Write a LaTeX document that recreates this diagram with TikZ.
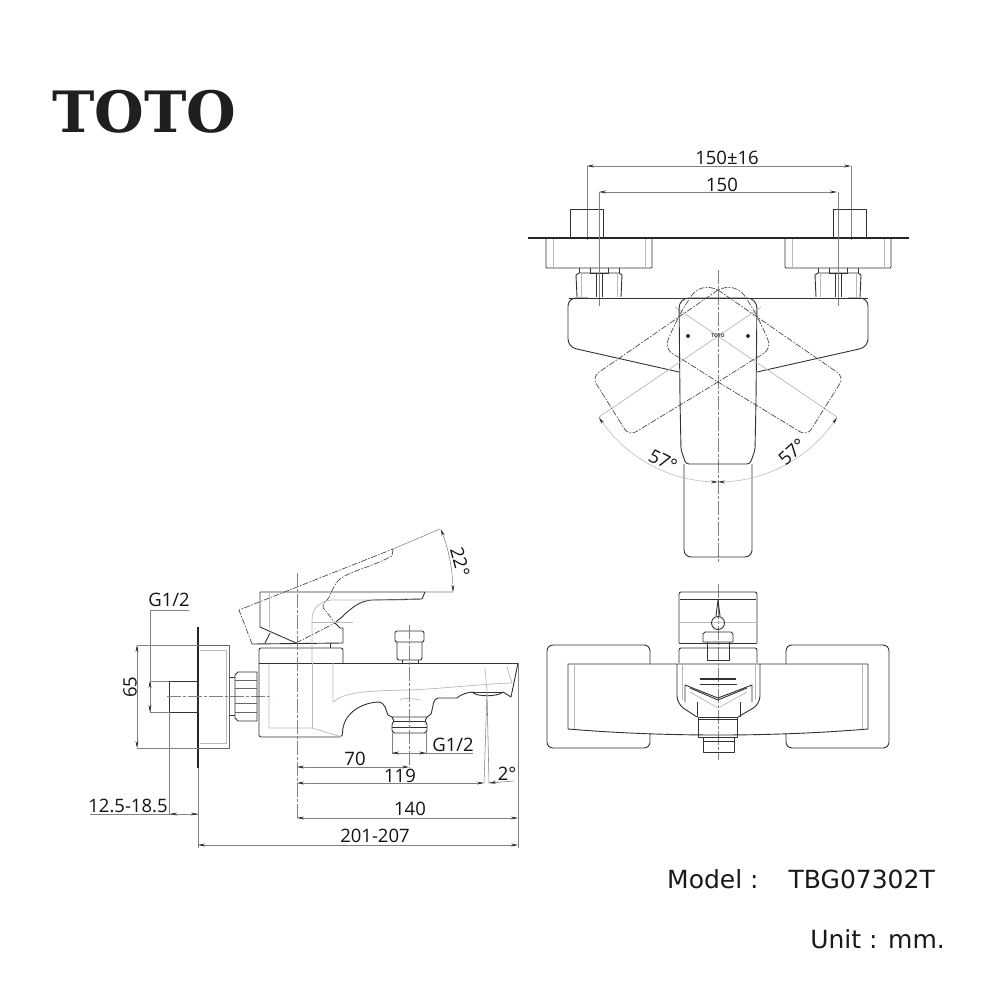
\documentclass[tikz,border=0pt]{standalone}
\usepackage{fontspec}
\setmainfont{Open Sans}
\newfontfamily\logofont{DejaVu Serif}
\newfontfamily\notefont{DejaVu Sans}
\usetikzlibrary{arrows.meta}
\definecolor{inkline}{RGB}{50,50,50}
\definecolor{ghostline}{RGB}{185,185,185}
\definecolor{dimgrey}{RGB}{130,130,130}
\tikzset{dimtip/.tip={Stealth[length=7pt,width=3pt,color=inkline]},
outline/.style={draw=inkline, line width=0.9pt, line join=round},
plateline/.style={draw=black!85, line width=1.8pt},
ghost/.style={draw=ghostline, line width=0.7pt},
hiddenline/.style={draw=black!70, line width=0.7pt, dash pattern=on 6pt off 1.5pt on 1.5pt off 1.5pt},
centerline/.style={draw=dimgrey, line width=0.6pt, dash pattern=on 14pt off 2pt on 3pt off 2pt},
extline/.style={draw=dimgrey, line width=0.55pt},
dimline/.style={extline, arrows={dimtip-dimtip}},
dimleft/.style={extline, arrows={dimtip-}},
dimright/.style={extline, arrows={-dimtip}},
dimtext/.style={inner sep=0pt, text height=13pt, text depth=0pt, text=black!92, font=\fontsize{18.5}{18.5}\selectfont},
notetext/.style={inner sep=0pt, text=black!90, font=\notefont\fontsize{25}{25}\selectfont}}

\begin{document}
\begin{tikzpicture}[x=1pt, y=-1pt]
    \useasboundingbox (0, 0) rectangle (1000, 1000);
    \fill[white] (0, 0) rectangle (1000, 1000);
    % Logo and notes
    \node[inner sep=0pt, anchor=base west, text=black!88, font=\logofont\bfseries\fontsize{57}{57}\selectfont] (logo) at (52, 133) {TOTO};
    \node[notetext, anchor=base west] (modellabel) at (667, 888) {Model :};
    \node[notetext, anchor=base east] (modelname) at (935, 888) {TBG07302T};
    \node[notetext, anchor=base east] (unitlabel) at (945, 948) {Unit : mm.};

    % Top view: dimensions
    \draw[dimline] (587, 166) -- (851, 166);
    \draw[dimline] (599, 192) -- (837, 192);
    \node[dimtext] (widthmax) at (727, 158) {150±16};
    \node[dimtext] (widthmin) at (722, 185) {150};
    \foreach \x in {587, 851} {
        \draw[extline] (\x, 166) -- (\x, 240);
    }
    % Top view: wall plate, stubs, nuts
    \draw[plateline] (528, 238) -- (909, 238);
    \foreach \x/\s in {599/587, 838/850} {
        \draw[outline] (\s-16.5, 238) -- (\s-16.5, 209) -- (\s+16.5, 209) -- (\s+16.5, 238);
        \draw[outline, rounded corners=1pt] (\x-53, 238) -- (\x-53, 268) -- (\x+53, 268) -- (\x+53, 238);
        \draw[ghost] (\x-46, 239) -- (\x-46, 267) (\x+46, 239) -- (\x+46, 267);
        \draw[outline] (\x-22, 297) -- (\x-23, 275) -- (\x-20, 273) -- (\x+20, 273) -- (\x+23, 275) -- (\x+22, 297);
        \draw[outline] (\x-20, 268) -- (\x-20, 273) (\x+20, 268) -- (\x+20, 273);
        \draw[outline] (\x-9, 268) -- (\x-9, 273) -- (\x+9, 273) -- (\x+9, 268);
        \draw[outline] (\x-3, 273) -- (\x-3, 297) (\x+3, 273) -- (\x+3, 297);
        \draw[ghost] (\x-18, 274) -- (\x-18, 297) (\x+18, 274) -- (\x+18, 297);
        \draw[extline] (\x, 192) -- (\x, 306);
    }
    % Top view: body and lever
    \draw[outline] (569, 298) -- (868, 298);
    \draw[centerline] (718, 270) -- (718, 562);
    \foreach \m in {1, -1} {
        \begin{scope}[xshift=718pt, xscale=\m]
            \draw[outline, rounded corners=8pt] (39, 372) -- (150, 347) -- (150, 298) -- (130, 298);
            \draw[outline, rounded corners=10pt] (0, 298) -- (39, 298) -- (38, 400);
            \draw[outline, rounded corners=3pt] (38, 400) -- (37, 450) -- (32, 464) -- (0, 464);
            \draw[outline, rounded corners=7pt] (34, 464) -- (34, 557) -- (0, 557);
            \draw[ghost] (-43, 307) -- (119, 417);
            \draw[hiddenline, rounded corners=8pt] (0, 290) -- (126, 377) -- (89, 436) -- (0, 382) -- (-38, 358);
            \draw[hiddenline] (-38, 358) .. controls (-46, 354) and (-53, 350) .. (-50, 340) .. controls (-44, 325) and (-35, 308) .. (-28, 298) .. controls (-22, 287) and (-10, 285) .. (0, 290);
            \draw[extline, draw=ghostline, arrows={dimtip-dimtip}] plot[domain=57:0, samples=30] ({142*sin(\x)}, {340+142*cos(\x)});
            \fill[inkline] (30, 336) circle (2pt);
        \end{scope}
    }
    \node[inner sep=0pt, text=black!80, font=\bfseries\fontsize{5}{5}\selectfont] (handlemark) at (718, 336) {TOTO};
    \node[dimtext, rotate=-27] (angleleft) at (663, 461) {57°};
    \node[dimtext, rotate=42] (angleright) at (792, 452) {57°};

    % Bottom view: wall plates
    \draw[outline, rounded corners=6pt] (650, 664) -- (650, 645) -- (547, 645) -- (547, 748) -- (650, 748) -- (650, 733);
    \draw[outline, rounded corners=6pt] (786, 664) -- (786, 645) -- (889, 645) -- (889, 748) -- (786, 748) -- (786, 733);
    % Bottom view: body
    \draw[outline] (568, 664) -- (868, 664) -- (868, 729) .. controls (820, 733) and (770, 735) .. (718, 735) .. controls (666, 735) and (616, 733) .. (568, 729) -- cycle;
    \draw[ghost] (574, 664) -- (574, 729) (862, 664) -- (862, 729);
    \draw[centerline] (718, 584) -- (718, 760);
    % Bottom view: lever and post
    \draw[outline, rounded corners=2pt] (679, 643) -- (679, 592) -- (757, 592) -- (757, 643);
    \draw[outline] (680, 599) -- (756, 599) (679, 643) -- (757, 643);
    \draw[ghost] (679, 622) -- (757, 622);
    \draw[outline, rounded corners=2pt] (679, 663) -- (679, 648) -- (757, 648) -- (757, 663);
    \draw[outline] (718, 600) -- (716, 616) (718, 600) -- (720, 616);
    \draw[outline] (718, 623) circle (6.5);
    \draw[outline] (703, 642) -- (703, 634) -- (705, 632) -- (731, 632) -- (733, 634) -- (733, 642) -- cycle;
    \draw[outline] (707, 642) -- (707, 660) -- (729, 660) -- (729, 642);
    % Bottom view: spout
    \draw[outline, rounded corners=8pt] (677, 664) -- (677, 704) -- (697, 717);
    \draw[outline, rounded corners=8pt] (760, 664) -- (760, 704) -- (738, 717);
    \draw[ghost] (682, 664) -- (682, 700) (755, 664) -- (755, 700);
    \draw[outline] (685, 702) -- (685, 685) -- (718, 698) -- (752, 685) -- (752, 702);
    \draw[outline] (690, 688) -- (718, 700) -- (747, 688);
    \draw[ghost] (690, 692) -- (718, 708) -- (747, 692);
    \draw[outline] (697, 702) -- (697, 717) (740, 702) -- (740, 717);
    \draw[outline, line width=1.2pt] (700, 679) -- (736, 679);
    \draw[outline] (700, 684) -- (737, 684);
    \draw[outline] (698, 717) rectangle (737, 737);
    \draw[outline] (698, 719) -- (737, 719);
    \draw[outline] (703, 737) -- (703, 752) -- (734, 752) -- (734, 737);
    \draw[outline] (703, 741) -- (734, 741);

    % Side view: wall side
    \draw[plateline] (198, 627) -- (198, 768);
    \draw[outline] (198, 681) rectangle (169, 712);
    \draw[outline, draw=black!60] (198, 645) -- (229, 645) -- (229, 748) -- (198, 748);
    \draw[ghost] (200, 650) -- (226, 650) -- (226, 743) -- (200, 743);
    \draw[centerline] (167, 696) -- (272, 696);
    \draw[outline] (229, 677) -- (235, 677) (229, 715) -- (235, 715);
    \draw[outline] (257, 672) -- (238, 672) -- (235, 675) -- (235, 718) -- (238, 721) -- (257, 721) -- cycle;
    \foreach \y in {680, 688, 703, 712} {
        \draw[outline, draw=black!60] (235, \y) -- (257, \y);
    }
    % Side view: body and spout
    \draw[outline, rounded corners=2pt] (343, 663) -- (343, 648) -- (259, 648) -- (259, 737) -- (342, 737) -- (343, 728);
    \draw[outline] (259, 663) -- (518, 663);
    \draw[outline] (343, 728) .. controls (345, 714) and (360, 703) .. (378, 702) .. controls (386, 702) and (386, 712) .. (388, 715) -- (392, 717) -- (427, 717) -- (431, 714) .. controls (433, 708) and (433, 698) .. (438, 698) -- (457, 698) .. controls (460, 695) and (465, 693) .. (472, 692);
    \draw[outline] (472, 692) .. controls (476, 697) and (498, 697) .. (503, 692) -- (511, 697) -- (518, 663);
    \draw[outline] (472, 692) -- (503, 692);
    \draw[ghost] (333, 663) -- (333, 702) .. controls (345, 692) and (365, 691) .. (407, 690) .. controls (440, 689) and (480, 684) .. (512, 683) -- (507, 667);
    \draw[ghost] (485, 668) -- (487, 692);
    \draw[ghost] (269, 664) -- (269, 728) -- (312, 728) -- (342, 737);
    \draw[ghost] (312, 663) -- (312, 728);
    \draw[ghost] (400, 700) .. controls (400, 698) and (412, 698) .. (420, 700);
    % Side view: outlet thread
    \draw[outline, rounded corners=1pt] (392, 717) -- (394, 721) -- (392, 724) -- (392, 731) -- (394, 733) -- (425, 733) -- (427, 731) -- (427, 724) -- (425, 721) -- (427, 717);
    \draw[outline] (393, 721) -- (426, 721) (392, 727) -- (427, 727);
    % Side view: post
    \draw[outline, rounded corners=2pt] (395, 642) -- (395, 631) -- (424, 631) -- (424, 642) -- cycle;
    \draw[outline, rounded corners=2pt] (397, 642) -- (397, 660) -- (422, 660) -- (422, 642);
    \draw[outline] (402, 660) -- (402, 663) (418, 660) -- (418, 663);
    % Side view: lever
    \draw[outline] (425, 592) -- (260, 592) -- (260, 627) -- (296, 643);
    \draw[outline] (425, 592) -- (422, 599) -- (372, 600) .. controls (358, 601) and (350, 610) .. (345, 614) .. controls (342, 618) and (337, 620) .. (335, 623) -- (340, 628) -- (343, 628) -- (343, 643) -- (252, 644);
    \draw[hiddenline] (296, 643) -- (335, 623);
    \draw[hiddenline] (252, 644) -- (239, 610) -- (393, 549);
    \draw[hiddenline] (393, 549) -- (392, 556) .. controls (370, 568) and (345, 572) .. (337, 582) .. controls (331, 590) and (330, 598) .. (327, 600) .. controls (322, 604) and (322, 608) .. (325, 610) -- (335, 623);
    \draw[outline] (270, 633) -- (265, 643);
    \draw[outline] (330, 643) -- (330, 648);
    \draw[ghost] (269, 592) -- (269, 628);
    \draw[ghost] (312, 663) -- (312, 620) .. controls (312, 606) and (322, 601) .. (332, 600) -- (405, 600);
    \draw[ghost] (312, 622) -- (353, 622);
    \draw[centerline] (297, 573) -- (297, 820);
    \draw[centerline] (409, 625) -- (409, 768);
    % Side view: lever angle
    \draw[extline] (393, 549) -- (440, 529) (425, 592) -- (453, 592);
    \draw[dimline] plot[domain=-22:0, samples=12] ({285+168*cos(\x)}, {592+168*sin(\x)});
    \node[dimtext, rotate=-75] (anglelever) at (460, 562) {22°};

    % Side view: dimensions
    \draw[extline] (150, 610) -- (189, 610);
    \node[dimtext] (threadleft) at (169, 600) {G1/2};
    \draw[extline] (150, 610) -- (150, 712) (150, 681) -- (169, 681) (150, 712) -- (169, 712);
    \draw[dimright] (150, 690) -- (150, 681);
    \draw[dimright] (150, 703) -- (150, 712);
    \draw[extline] (137, 645) -- (198, 645) (137, 748) -- (198, 748);
    \draw[dimline] (137, 645) -- (137, 748);
    \node[dimtext, rotate=90] (heightplate) at (130, 687) {65};
    \draw[extline] (169, 712) -- (169, 815) (198, 768) -- (198, 848) (518, 663) -- (518, 848);
    \draw[extline] (90, 814) -- (198, 814);
    \draw[dimright] (190, 814) -- (198, 814);
    \draw[dimleft] (170, 814) -- (178, 814);
    \node[dimtext] (depthstub) at (128, 806) {12.5-18.5};
    \draw[extline] (392, 733) -- (392, 754) (426, 733) -- (426, 754);
    \draw[extline] (392, 753) -- (473, 753);
    \draw[dimleft] (392, 753) -- (401, 753);
    \draw[dimright] (417, 753) -- (426, 753);
    \node[dimtext] (threadoutlet) at (453, 745) {G1/2};
    \draw[dimline] (297, 767) -- (409, 767);
    \node[dimtext] (lengthpost) at (355, 759) {70};
    \draw[dimline] (297, 783) -- (484, 783);
    \node[dimtext] (lengthoutlet) at (400, 776) {119};
    \draw[extline] (487, 692) -- (484, 783) (487, 692) -- (489, 783);
    \draw[extline] (489, 783) -- (514, 781);
    \draw[dimleft] (489, 783) -- (498, 782);
    \node[dimtext] (angleoutlet) at (507, 774) {2°};
    \draw[dimline] (297, 818) -- (518, 818);
    \node[dimtext] (lengthspout) at (410, 809) {140};
    \draw[dimline] (198, 845) -- (518, 845);
    \node[dimtext] (lengthtotal) at (375, 836) {201-207};
\end{tikzpicture}
\end{document}
